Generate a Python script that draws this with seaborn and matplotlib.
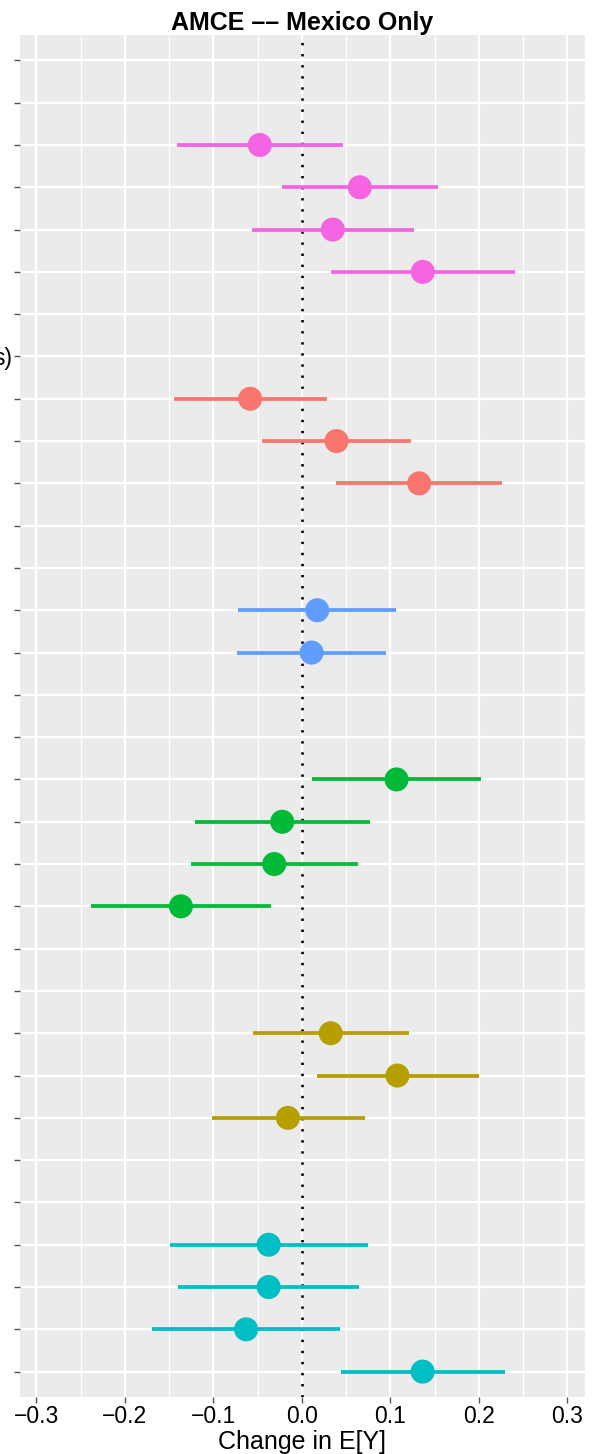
import numpy as np
import pandas as pd
import matplotlib
matplotlib.use("Agg")
import matplotlib.pyplot as plt
import seaborn as sns

# ---------------- data (top row = 1) ----------------
n_rows = 32
row_labels = [""] * n_rows
row_labels[7] = "s)"   # only visible (cropped) label text

pink_rows = [3, 4, 5, 6]
pink_est = [-0.0475, 0.0655, 0.035, 0.1367]
pink_lo = [-0.141, -0.0226, -0.0558, 0.0335]
pink_hi = [0.0463, 0.1537, 0.1266, 0.2407]

red_rows = [9, 10, 11]
red_est = [-0.0584, 0.0392, 0.1326]
red_lo = [-0.145, -0.0455, 0.0384]
red_hi = [0.0288, 0.1236, 0.2264]

blue_rows = [14, 15]
blue_est = [0.0174, 0.011]
blue_lo = [-0.0727, -0.0734]
blue_hi = [0.1066, 0.0953]

green_rows = [18, 19, 20, 21]
green_est = [0.107, -0.0222, -0.0312, -0.1367]
green_lo = [0.0113, -0.1205, -0.1258, -0.238]
green_hi = [0.203, 0.0765, 0.0633, -0.035]

olive_rows = [24, 25, 26]
olive_est = [0.0326, 0.108, -0.0158]
olive_lo = [-0.0554, 0.0176, -0.1020]
olive_hi = [0.1207, 0.2005, 0.0709]

teal_rows = [29, 30, 31, 32]
teal_est = [-0.0375, -0.0375, -0.063, 0.1365]
teal_lo = [-0.149, -0.140, -0.169, 0.0445]
teal_hi = [0.0743, 0.0649, 0.0436, 0.2297]

x_ticks = [-0.3, -0.2, -0.1, 0.0, 0.1, 0.2, 0.3]
x_tick_labels = ["\u22120.3", "\u22120.2", "\u22120.1", "0.0", "0.1", "0.2", "0.3"]

groups = {
    "pink": (pink_rows, pink_est, pink_lo, pink_hi, "#F564E3"),
    "red": (red_rows, red_est, red_lo, red_hi, "#F8766D"),
    "blue": (blue_rows, blue_est, blue_lo, blue_hi, "#619CFF"),
    "green": (green_rows, green_est, green_lo, green_hi, "#00BA38"),
    "olive": (olive_rows, olive_est, olive_lo, olive_hi, "#B79F00"),
    "teal": (teal_rows, teal_est, teal_lo, teal_hi, "#00BFC4"),
}

frames = []
for g, (r, e, lo, hi, c) in groups.items():
    frames.append(pd.DataFrame({"row": r, "est": e, "lo": lo, "hi": hi, "group": g}))
df = pd.concat(frames, ignore_index=True)
palette = {g: v[4] for g, v in groups.items()}

# ---------------- plot ----------------
sns.set_theme(style="darkgrid")
plt.rcParams["font.family"] = ["Liberation Sans", "DejaVu Sans"]

W, H = 598, 1454
fig = plt.figure(figsize=(W / 100, H / 100), dpi=100)
ax = fig.add_axes([20 / W, (H - 1397) / H, 565 / W, 1362 / H])
ax.set_facecolor("#EBEBEB")

# grid
for xm in np.arange(-0.3, 0.31, 0.1):
    ax.axvline(xm, color="white", lw=1.6, zorder=0)
for xm in np.arange(-0.25, 0.26, 0.1):
    ax.axvline(xm, color="white", lw=0.8, zorder=0)
for yr in range(1, n_rows + 1):
    ax.axhline(yr, color="white", lw=1.6, zorder=0)
ax.grid(False)

# zero line
ax.axvline(0, color="black", lw=1.9, linestyle=(0, (0.9, 3.3)), zorder=1)

# intervals
for g, sub in df.groupby("group"):
    ax.hlines(sub["row"], sub["lo"], sub["hi"], color=palette[g], lw=2.7, zorder=2)

sns.scatterplot(data=df, x="est", y="row", hue="group", palette=palette,
                s=300, linewidth=0, legend=False, ax=ax, zorder=3)

ax.set_xlim(-0.3185, 0.320)
ax.set_ylim(n_rows + 0.6, 0.4)
ax.set_yticks(range(1, n_rows + 1))
ax.set_yticklabels(row_labels, fontsize=16.5, color="black")
ax.set_xticks(x_ticks)
ax.set_xticklabels(x_tick_labels, fontsize=16.5, color="black")
ax.tick_params(axis="both", length=4.3, width=1.0, color="#555555", pad=1.5,
               left=True, bottom=True)
for s in ax.spines.values():
    s.set_visible(False)

ax.set_ylabel("")
ax.set_xlabel("Change in E[Y]", fontsize=18, color="black", labelpad=1.5)
ax.set_title("AMCE \u2013\u2013 Mexico Only", fontsize=18, fontweight="bold",
             color="black", pad=3.5)

fig.savefig("out.png", dpi=100)
